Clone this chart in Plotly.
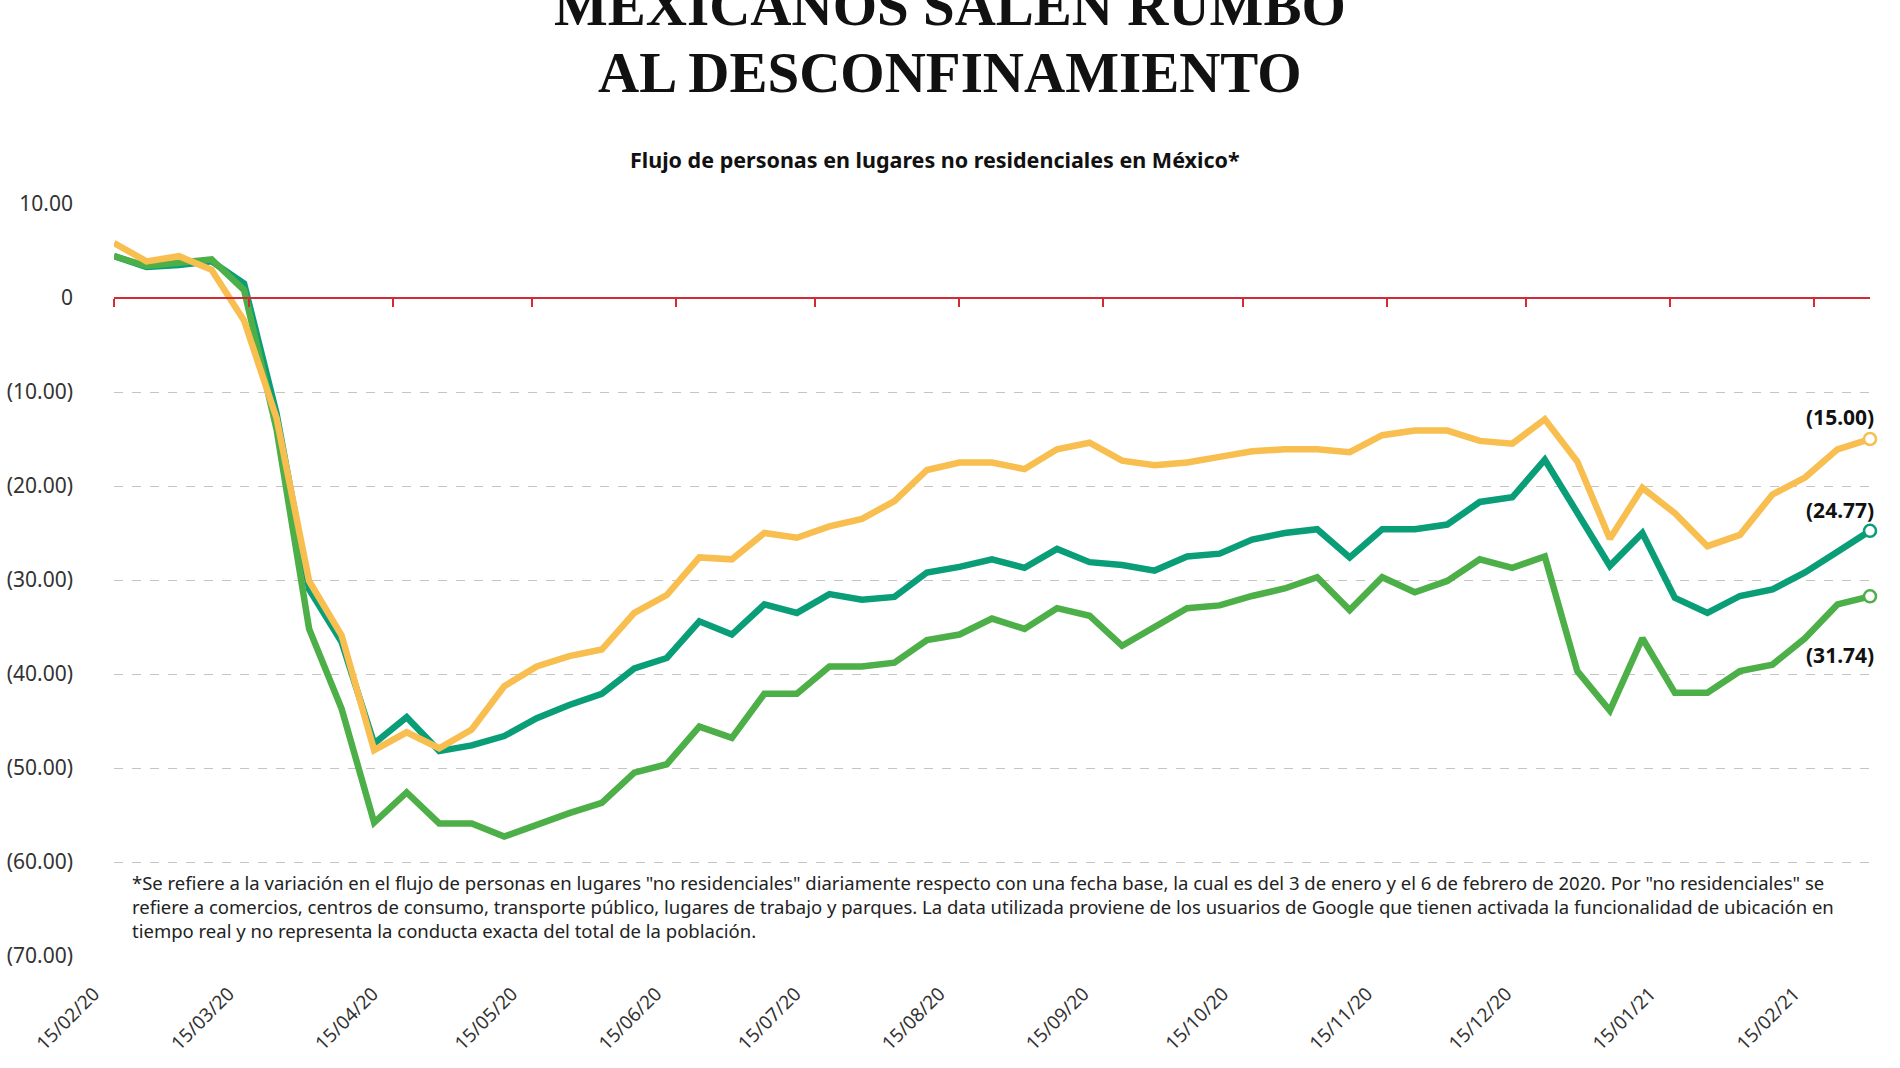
import pandas as pd
import plotly.graph_objects as go

dates = pd.date_range("2020-02-15", periods=55, freq="7D")

serie_amarilla = [5.85, 3.9, 4.45, 3.0, -2.4, -12.8, -30.1, -35.9, -48.1, -46.2,
                  -47.9, -45.9, -41.3, -39.2, -38.1, -37.4, -33.5, -31.6, -27.6, -27.8,
                  -25.0, -25.5, -24.3, -23.5, -21.6, -18.3, -17.5, -17.5, -18.2, -16.1,
                  -15.4, -17.3, -17.8, -17.5, -16.9, -16.3, -16.1, -16.1, -16.4, -14.6,
                  -14.1, -14.1, -15.2, -15.5, -12.9, -17.4, -25.6, -20.2, -22.9, -26.4,
                  -25.2, -20.9, -19.1, -16.1, -15.00]
serie_turquesa = [4.45, 3.3, 3.5, 3.9, 1.55, -12.3, -31.0, -36.6, -47.4, -44.6,
                  -48.2, -47.6, -46.6, -44.7, -43.3, -42.1, -39.4, -38.3, -34.4, -35.8,
                  -32.6, -33.5, -31.5, -32.1, -31.8, -29.2, -28.6, -27.8, -28.7, -26.7,
                  -28.1, -28.4, -29.0, -27.5, -27.2, -25.7, -25.0, -24.6, -27.6, -24.6,
                  -24.6, -24.1, -21.7, -21.2, -17.2, -22.9, -28.5, -25.0, -31.9, -33.5,
                  -31.7, -31.0, -29.2, -27.0, -24.77]
serie_verde = [4.45, 3.4, 3.75, 4.1, 0.85, -14.0, -35.2, -43.7, -55.8, -52.6,
               -55.9, -55.9, -57.3, -56.0, -54.8, -53.7, -50.5, -49.6, -45.6, -46.8,
               -42.1, -42.1, -39.2, -39.2, -38.8, -36.4, -35.8, -34.1, -35.2, -33.0,
               -33.8, -37.0, -34.9, -33.0, -32.7, -31.7, -30.9, -29.7, -33.2, -29.7,
               -31.3, -30.1, -27.8, -28.7, -27.5, -39.7, -43.9, -36.2, -42.0, -42.0,
               -39.7, -39.0, -36.2, -32.6, -31.74]

tick_labels = ["15/02/20", "15/03/20", "15/04/20", "15/05/20", "15/06/20", "15/07/20",
               "15/08/20", "15/09/20", "15/10/20", "15/11/20", "15/12/20", "15/01/21",
               "15/02/21"]
tick_dates = pd.to_datetime(tick_labels, format="%d/%m/%y")
y_ticks = [10, 0, -10, -20, -30, -40, -50, -60, -70]
y_labels = ["10.00", "0", "(10.00)", "(20.00)", "(30.00)", "(40.00)", "(50.00)",
            "(60.00)", "(70.00)"]
end_labels = ["(15.00)", "(24.77)", "(31.74)"]

title_1 = "MEXICANOS SALEN RUMBO"
title_2 = "AL DESCONFINAMIENTO"
subtitle = "Flujo de personas en lugares no residenciales en México*"
footnote = ('*Se refiere a la variación en el flujo de personas en lugares "no residenciales" diariamente respecto con una fecha base, la cual es del 3 de enero y el 6 de febrero de 2020. Por "no residenciales" se<br>'
            'refiere a comercios, centros de consumo, transporte público, lugares de trabajo y parques. La data utilizada proviene de los usuarios de Google que tienen activada la funcionalidad de ubicación en<br>'
            'tiempo real y no representa la conducta exacta del total de la población.')

C_YEL = "#F8BE50"
C_TEAL = "#0A9E78"
C_GRN = "#4DAF48"
RED = "#D42A33"
TXT = "#333333"
FONT = "Noto Sans"
TITLE_FONT = "Liberation Serif, serif"

fig = go.Figure()
series = [(serie_turquesa, C_TEAL), (serie_verde, C_GRN), (serie_amarilla, C_YEL)]
for vals, col in series:
    fig.add_trace(go.Scatter(
        x=dates, y=vals, mode="lines", line=dict(color=col, width=6.5),
        cliponaxis=False, showlegend=False, hoverinfo="x+y"))
for vals, col in series:
    fig.add_trace(go.Scatter(
        x=[dates[-1]], y=[vals[-1]], mode="markers",
        marker=dict(size=12, color="white", line=dict(color=col, width=2.5)),
        cliponaxis=False, showlegend=False, hoverinfo="skip"))

# invisible trace so the red zero axis is drawn
fig.add_trace(go.Scatter(x=dates, y=serie_amarilla, xaxis="x2", mode="lines",
                         line=dict(width=0), opacity=0, showlegend=False, hoverinfo="skip"))

ymin, ymax = -70, 10
fig.update_layout(
    width=1900, height=1068,
    margin=dict(l=114, r=30, t=204, b=112),
    plot_bgcolor="white", paper_bgcolor="white",
    font=dict(family=FONT, color=TXT),
    xaxis=dict(range=[dates[0], dates[-1]], tickvals=tick_dates, ticktext=tick_labels,
               tickangle=-45, showgrid=False, showline=False, zeroline=False,
               ticks="", tickfont=dict(size=19, color=TXT), ticklabelstandoff=22,
               ticklabelshift=-20, automargin=False),
    xaxis2=dict(range=[dates[0], dates[-1]], overlaying="x", anchor="free",
                position=(0 - ymin) / (ymax - ymin), tickvals=tick_dates,
                showticklabels=False, showgrid=False, zeroline=False,
                showline=True, linecolor=RED, linewidth=1.5, automargin=False,
                ticks="outside", ticklen=8, tickwidth=1.5, tickcolor=RED),
    yaxis=dict(range=[ymin, ymax], tickvals=y_ticks, ticktext=y_labels,
               showgrid=True, gridcolor="#C4C4C4", griddash="dash", gridwidth=1,
               zeroline=False, showline=False, ticks="", automargin=False,
               tickfont=dict(size=21, color=TXT), ticklabelstandoff=40),
)

ann = []
for txt, yy in [(title_1, 1.2645), (title_2, 1.175)]:
    ann.append(dict(text=txt, xref="paper", yref="paper", x=0.476, y=yy,
                    xanchor="center", yanchor="middle", showarrow=False,
                    font=dict(family=TITLE_FONT, size=57, color="#111111", weight="bold")))
ann.append(dict(text=subtitle, xref="paper", yref="paper", x=0.4675, y=1.0598,
                xanchor="center", yanchor="middle", showarrow=False,
                font=dict(family=FONT, size=21.5, color="#111111", weight="bold")))
ann.append(dict(text=footnote, xref="paper", yref="paper", x=0.0091, y=0.0658,
                xanchor="left", yanchor="middle", align="left", showarrow=False,
                font=dict(family=FONT, size=18.5, color="#222222")))
shifts = [22, 21, -59]
for (vals, col), lab, ys in zip([(serie_amarilla, C_YEL), (serie_turquesa, C_TEAL),
                                 (serie_verde, C_GRN)], end_labels, shifts):
    ann.append(dict(text=lab, x=dates[-1], y=vals[-1], xref="x", yref="y",
                    xanchor="right", yanchor="middle", xshift=6, yshift=ys,
                    showarrow=False,
                    font=dict(family=FONT, size=21, color="#111111", weight="bold")))
fig.update_layout(annotations=ann)

fig.write_html("out.html", config={"displayModeBar": False},
               post_script="document.body.style.margin='0px';")
